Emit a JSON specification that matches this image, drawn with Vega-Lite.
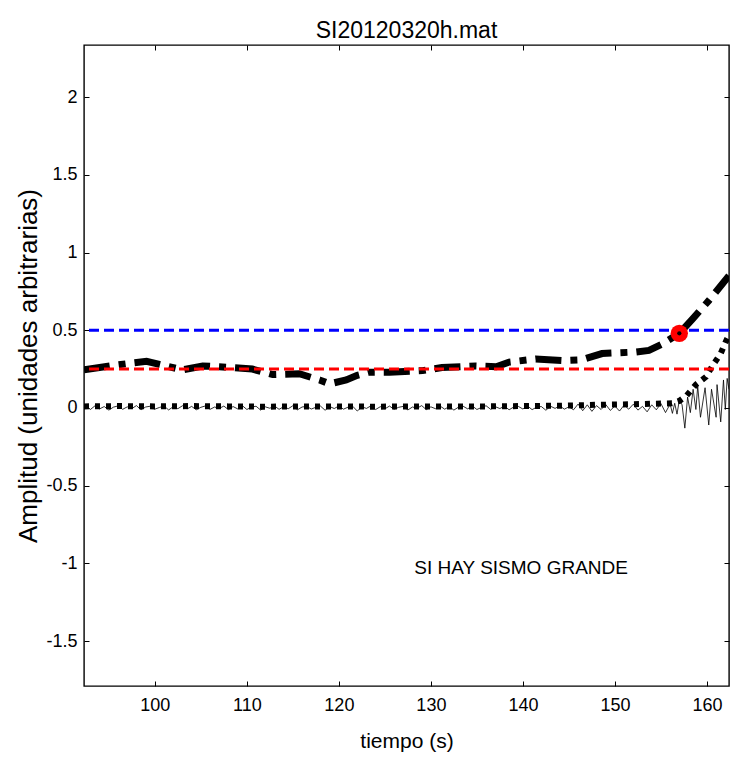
{
  "$schema": "https://vega.github.io/schema/vega-lite/v6.json",
  "width": 645,
  "height": 641,
  "autosize": "none",
  "padding": {"left": 84, "top": 45, "right": 3, "bottom": 76},
  "background": "white",
  "config": {
    "font": "Liberation Sans, Arial, sans-serif",
    "view": {"stroke": "black", "strokeWidth": 1.4},
    "axis": {
      "grid": false,
      "domain": false,
      "offset": -5,
      "tickColor": "black",
      "tickSize": 5,
      "tickWidth": 1,
      "labelColor": "black",
      "labelFontSize": 18,
      "titleColor": "black",
      "titleFontWeight": "normal"
    }
  },
  "title": {"text": "SI20120320h.mat", "fontSize": 23, "fontWeight": "normal", "offset": 2, "color": "black"},
  "datasets": {
    "sismo": [
      {"t": 92.3, "a": 0.002}, {"t": 92.5, "a": 0.012}, {"t": 93, "a": -0.01}, {"t": 93.5, "a": 0.014}, {"t": 94, "a": -0.006}, {"t": 94.5, "a": 0.009}, {"t": 95, "a": -0.014}, {"t": 95.5, "a": 0.005}, {"t": 96, "a": 0.013}, {"t": 96.5, "a": -0.009}, {"t": 97, "a": 0.007},
      {"t": 97.5, "a": -0.004}, {"t": 98, "a": 0.015}, {"t": 98.5, "a": -0.012}, {"t": 99, "a": 0.006}, {"t": 99.5, "a": 0.011}, {"t": 100, "a": -0.008}, {"t": 100.5, "a": 0.003}, {"t": 101, "a": 0.012}, {"t": 101.5, "a": -0.013}, {"t": 102, "a": 0.008},
      {"t": 102.5, "a": -0.005}, {"t": 103, "a": 0.014}, {"t": 103.5, "a": -0.007}, {"t": 104, "a": 0.01}, {"t": 104.5, "a": -0.012}, {"t": 105, "a": 0.004}, {"t": 105.5, "a": 0.013}, {"t": 106, "a": -0.009}, {"t": 106.5, "a": 0.006}, {"t": 107, "a": -0.003},
      {"t": 107.5, "a": 0.012}, {"t": 108, "a": -0.011}, {"t": 108.5, "a": 0.009}, {"t": 109, "a": -0.006}, {"t": 109.5, "a": 0.015}, {"t": 110, "a": -0.01}, {"t": 110.5, "a": 0.005}, {"t": 111, "a": 0.011}, {"t": 111.5, "a": -0.014}, {"t": 112, "a": 0.007},
      {"t": 112.5, "a": -0.002}, {"t": 113, "a": 0.013}, {"t": 113.5, "a": -0.009}, {"t": 114, "a": 0.008}, {"t": 114.5, "a": -0.005}, {"t": 115, "a": 0.014}, {"t": 115.5, "a": -0.012}, {"t": 116, "a": 0.006}, {"t": 116.5, "a": 0.01}, {"t": 117, "a": -0.007},
      {"t": 117.5, "a": 0.004}, {"t": 118, "a": 0.012}, {"t": 118.5, "a": -0.015}, {"t": 119, "a": 0.009}, {"t": 119.5, "a": -0.004}, {"t": 120, "a": 0.013}, {"t": 120.5, "a": -0.008}, {"t": 121, "a": 0.005}, {"t": 121.5, "a": 0.011}, {"t": 122, "a": -0.02},
      {"t": 122.5, "a": 0.007}, {"t": 123, "a": -0.003}, {"t": 123.5, "a": 0.014}, {"t": 124, "a": -0.01}, {"t": 124.5, "a": 0.008}, {"t": 125, "a": -0.006}, {"t": 125.5, "a": 0.012}, {"t": 126, "a": -0.009}, {"t": 126.5, "a": 0.004}, {"t": 127, "a": 0.01},
      {"t": 127.5, "a": -0.013}, {"t": 128, "a": 0.006}, {"t": 128.5, "a": -0.002}, {"t": 129, "a": 0.015}, {"t": 129.5, "a": -0.011}, {"t": 130, "a": 0.007}, {"t": 130.5, "a": -0.005}, {"t": 131, "a": 0.012}, {"t": 131.5, "a": -0.008}, {"t": 132, "a": 0.009},
      {"t": 132.5, "a": -0.014}, {"t": 133, "a": 0.005}, {"t": 133.5, "a": 0.011}, {"t": 134, "a": -0.006}, {"t": 134.5, "a": 0.013}, {"t": 135, "a": -0.01}, {"t": 135.5, "a": 0.003}, {"t": 136, "a": 0.014}, {"t": 136.5, "a": -0.009}, {"t": 137, "a": 0.008},
      {"t": 137.5, "a": -0.004}, {"t": 138, "a": 0.012}, {"t": 138.5, "a": -0.012}, {"t": 139, "a": 0.006}, {"t": 139.5, "a": 0.01}, {"t": 140, "a": -0.007}, {"t": 140.5, "a": 0.013}, {"t": 141, "a": -0.011}, {"t": 141.5, "a": 0.005}, {"t": 142, "a": 0.009},
      {"t": 142.5, "a": -0.015}, {"t": 143, "a": 0.011}, {"t": 143.5, "a": -0.003}, {"t": 144, "a": 0.014}, {"t": 144.5, "a": -0.008}, {"t": 145, "a": 0.007}, {"t": 145.5, "a": -0.012}, {"t": 146, "a": 0.025}, {"t": 146.5, "a": -0.018}, {"t": 147, "a": 0.02},
      {"t": 147.5, "a": -0.022}, {"t": 148, "a": 0.015}, {"t": 148.5, "a": -0.01}, {"t": 149, "a": 0.022}, {"t": 149.5, "a": -0.016}, {"t": 150, "a": 0.012}, {"t": 150.5, "a": -0.02}, {"t": 151, "a": 0.018}, {"t": 151.5, "a": -0.008}, {"t": 152, "a": 0.024},
      {"t": 152.5, "a": -0.014}, {"t": 153, "a": 0.01}, {"t": 153.5, "a": -0.025}, {"t": 154, "a": 0.02}, {"t": 154.5, "a": -0.012}, {"t": 155, "a": 0.028}, {"t": 155.5, "a": -0.03}, {"t": 156, "a": 0.025}, {"t": 156.25, "a": -0.035}, {"t": 156.5, "a": 0.03},
      {"t": 156.75, "a": -0.04}, {"t": 157, "a": 0.05}, {"t": 157.3, "a": 0.02}, {"t": 157.6, "a": -0.13}, {"t": 157.9, "a": 0.07}, {"t": 158.2, "a": -0.03}, {"t": 158.5, "a": 0.12}, {"t": 158.8, "a": -0.01}, {"t": 159.0, "a": 0.14}, {"t": 159.3, "a": -0.06},
      {"t": 159.8, "a": 0.13}, {"t": 160.2, "a": -0.11}, {"t": 160.5, "a": 0.12}, {"t": 161.0, "a": -0.06}, {"t": 161.1, "a": 0.15}, {"t": 161.5, "a": -0.09}, {"t": 161.8, "a": 0.18}, {"t": 162.0, "a": -0.01}, {"t": 162.2, "a": 0.19}, {"t": 162.4, "a": 0.12}
    ],
    "dotted": [
      {"t": 92.3, "a": 0.01}, {"t": 96, "a": 0.012}, {"t": 100, "a": 0.01}, {"t": 104, "a": 0.012}, {"t": 108, "a": 0.01}, {"t": 112, "a": 0.008}, {"t": 116, "a": 0.01}, {"t": 120, "a": 0.01}, {"t": 124, "a": 0.008}, {"t": 128, "a": 0.01}, {"t": 132, "a": 0.01}, {"t": 136, "a": 0.01}, {"t": 140, "a": 0.012}, {"t": 144, "a": 0.014}, {"t": 148, "a": 0.02}, {"t": 152, "a": 0.024}, {"t": 155, "a": 0.028}, {"t": 156.2, "a": 0.03}, {"t": 157, "a": 0.045}, {"t": 157.8, "a": 0.08}, {"t": 158.8, "a": 0.15}, {"t": 159.9, "a": 0.2}, {"t": 160.7, "a": 0.28}, {"t": 161.5, "a": 0.35}, {"t": 162.0, "a": 0.42}, {"t": 162.4, "a": 0.47}
    ],
    "dashdot": [
      {"t": 92.3, "a": 0.245}, {"t": 95.1, "a": 0.27}, {"t": 97, "a": 0.285}, {"t": 99.1, "a": 0.3}, {"t": 100.5, "a": 0.28}, {"t": 103, "a": 0.245}, {"t": 105.2, "a": 0.27}, {"t": 108.5, "a": 0.26}, {"t": 110.6, "a": 0.25}, {"t": 112.8, "a": 0.215}, {"t": 115.7, "a": 0.22}, {"t": 117.9, "a": 0.18}, {"t": 119, "a": 0.155}, {"t": 120.8, "a": 0.18}, {"t": 122, "a": 0.21}, {"t": 123.3, "a": 0.23}, {"t": 125.5, "a": 0.23}, {"t": 129.1, "a": 0.24}, {"t": 131.2, "a": 0.26}, {"t": 134.9, "a": 0.27}, {"t": 137.1, "a": 0.265}, {"t": 138.5, "a": 0.295}, {"t": 141.4, "a": 0.315}, {"t": 144.3, "a": 0.305}, {"t": 146.4, "a": 0.31}, {"t": 148.6, "a": 0.35}, {"t": 152.3, "a": 0.36}, {"t": 153.7, "a": 0.37}, {"t": 155.1, "a": 0.41}, {"t": 157, "a": 0.48}, {"t": 158.4, "a": 0.57}, {"t": 160.2, "a": 0.69}, {"t": 162.4, "a": 0.85}
    ],
    "thresholds": [
      {"v": 0.25, "c": "#ff0000"},
      {"v": 0.5, "c": "#0000ff"}
    ],
    "marker": [{"t": 157, "a": 0.48}],
    "label": [{"t": 128.2, "a": -1.03, "txt": "SI HAY SISMO GRANDE"}]
  },
  "layer": [
    {
      "data": {"name": "sismo"},
      "mark": {"type": "line", "color": "black", "strokeWidth": 0.8, "clip": true},
      "encoding": {
        "x": {"field": "t", "type": "quantitative", "scale": {"domain": [92.3, 162.4], "nice": false, "zero": false},
              "axis": {"orient": "bottom", "values": [100, 110, 120, 130, 140, 150, 160], "labelExpr": "datum.value + ''", "title": "tiempo (s)", "titleFontSize": 21, "labelPadding": 10, "titlePadding": 16}},
        "y": {"field": "a", "type": "quantitative", "scale": {"domain": [-1.789, 2.335], "nice": false, "zero": false},
              "axis": {"orient": "left", "values": [-1.5, -1, -0.5, 0, 0.5, 1, 1.5, 2], "labelExpr": "datum.value + ''", "title": "Amplitud (unidades arbitrarias)", "titleFontSize": 26, "labelPadding": 7, "titlePadding": 4}}
      }
    },
    {
      "data": {"name": "dotted"},
      "mark": {"type": "line", "color": "black", "strokeWidth": 6, "strokeDash": [5, 6], "clip": true},
      "encoding": {
        "x": {"field": "t", "type": "quantitative", "axis": {"orient": "top", "values": [100, 110, 120, 130, 140, 150, 160], "labels": false, "title": null}},
        "y": {"field": "a", "type": "quantitative", "axis": {"orient": "right", "values": [-1.5, -1, -0.5, 0, 0.5, 1, 1.5, 2], "labels": false, "title": null}}
      }
    },
    {
      "data": {"name": "dashdot"},
      "mark": {"type": "line", "color": "black", "strokeWidth": 7, "strokeDash": [26, 9, 7, 9], "clip": true},
      "encoding": {
        "x": {"field": "t", "type": "quantitative", "axis": null},
        "y": {"field": "a", "type": "quantitative", "axis": null}
      }
    },
    {
      "data": {"name": "thresholds"},
      "mark": {"type": "rule", "strokeWidth": 3, "strokeDash": [10, 5]},
      "encoding": {
        "y": {"field": "v", "type": "quantitative", "axis": null},
        "color": {"field": "c", "type": "nominal", "scale": null}
      }
    },
    {
      "data": {"name": "marker"},
      "mark": {"type": "point", "shape": "circle", "filled": true, "color": "#ff0000", "size": 300, "opacity": 1},
      "encoding": {
        "x": {"field": "t", "type": "quantitative", "axis": null},
        "y": {"field": "a", "type": "quantitative", "axis": null}
      }
    },
    {
      "data": {"name": "marker"},
      "mark": {"type": "point", "shape": "circle", "filled": true, "color": "black", "size": 18, "opacity": 1},
      "encoding": {
        "x": {"field": "t", "type": "quantitative", "axis": null},
        "y": {"field": "a", "type": "quantitative", "axis": null}
      }
    },
    {
      "data": {"name": "label"},
      "mark": {"type": "text", "align": "left", "baseline": "middle", "fontSize": 19, "color": "black"},
      "encoding": {
        "x": {"field": "t", "type": "quantitative", "axis": null},
        "y": {"field": "a", "type": "quantitative", "axis": null},
        "text": {"field": "txt"}
      }
    }
  ],
  "resolve": {"axis": {"x": "independent", "y": "independent"}}
}
